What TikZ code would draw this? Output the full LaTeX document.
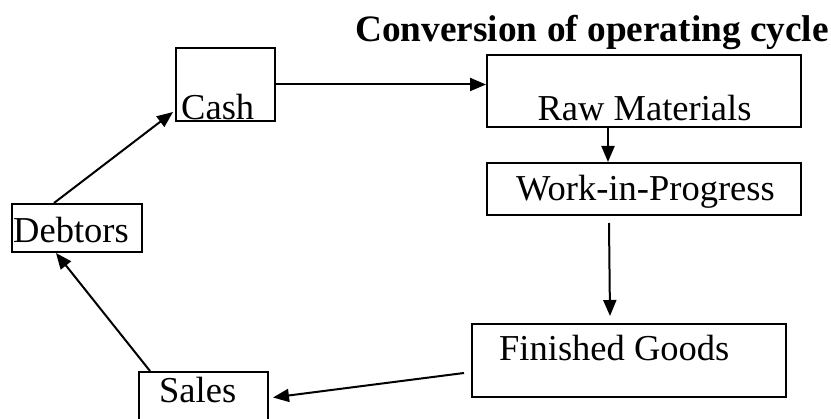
\documentclass[tikz,border=0pt]{standalone}
\usepackage{fontspec}
\setmainfont{Liberation Serif}
\usetikzlibrary{arrows.meta}
\tikzset{
  box/.style={draw, line width=2pt, rectangle, inner sep=0pt},
  lbl/.style={inner sep=0pt, font=\fontsize{36.5}{40}\selectfont},
  ttl/.style={inner sep=0pt, font=\fontsize{37.3}{42}\selectfont\bfseries},
  arr/.style={line width=2pt, -{Triangle[length=16pt,width=13pt]}},
}
\begin{document}
\begin{tikzpicture}[x=1pt,y=-1pt]
\useasboundingbox[fill=white] (0,0) rectangle (831,419);
% title
\node[ttl, anchor=base east] (title) at (829,42) {Conversion of operating cycle};
% boxes
\node[box, minimum width=99pt, minimum height=73pt] (cash) at (225.5,84.5) {};
\node[box, minimum width=314pt, minimum height=72pt] (raw) at (644,91) {};
\node[box, minimum width=314pt, minimum height=52pt] (wip) at (644,189) {};
\node[box, minimum width=314pt, minimum height=73pt] (fin) at (629,360.5) {};
\node[box, minimum width=129pt, minimum height=54pt] (sales) at (203.5,399) {};
\node[box, minimum width=130pt, minimum height=48pt] (debt) at (77,228) {};
% texts
\node[lbl, anchor=base west] (cashtxt) at (181,120) {Cash};
\node[lbl, anchor=base] (rawtxt) at (644.5,121) {Raw Materials};
\node[lbl, anchor=base west] (wiptxt) at (516,201) {Work-in-Progress};
\node[lbl, anchor=base west] (fintxt) at (499,361) {Finished Goods};
\node[lbl, anchor=base west] (salestxt) at (159,403) {Sales};
\node[lbl, anchor=base west] (debttxt) at (13,243) {Debtors};
% connectors
\draw[arr] (cash.east) -- (cash.east -| raw.west);
\draw[arr] ([xshift=122pt]raw.south west) -- ([xshift=122pt]wip.north west);
\draw[arr] ([xshift=123pt,yshift=-7pt]wip.south west) -- ([xshift=139pt,yshift=7pt]fin.north west);
\draw[arr] ([xshift=-7pt,yshift=-12.5pt]fin.west) -- ([xshift=4pt,yshift=1.5pt]sales.east);
\draw[arr] ([xshift=12pt]sales.north west) -- ([xshift=45pt]debt.south west);
\draw[arr] ([xshift=43pt]debt.north west) -- ([xshift=-2pt,yshift=10pt]cash.south west);
\end{tikzpicture}
\end{document}
